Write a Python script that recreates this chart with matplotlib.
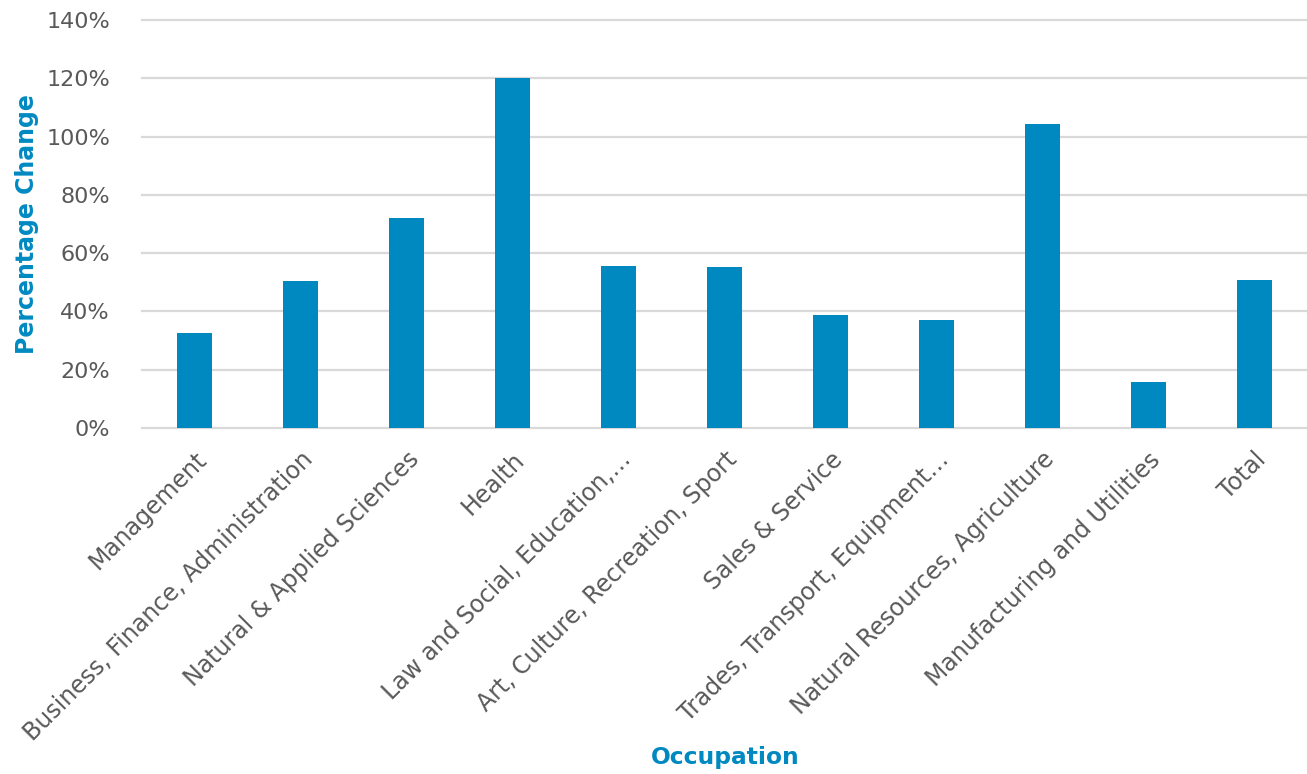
import matplotlib
matplotlib.use("Agg")
import matplotlib.pyplot as plt
from matplotlib.ticker import PercentFormatter

occupations = [
    "Management",
    "Business, Finance, Administration",
    "Natural & Applied Sciences",
    "Health",
    "Law and Social, Education,\u2026",
    "Art, Culture, Recreation, Sport",
    "Sales & Service",
    "Trades, Transport, Equipment\u2026",
    "Natural Resources, Agriculture",
    "Manufacturing and Utilities",
    "Total",
]
pct_change = [32.5, 50.5, 72.1, 120.3, 55.6, 55.1, 38.7, 37.1, 104.4, 15.7, 50.8]

BLUE = "#0089c1"
GREY = "#595959"

fig = plt.figure(figsize=(13.07, 7.74), dpi=100)
ax = fig.add_axes([0.1086, 0.447, 0.8914, 0.527])

x = range(len(occupations))
ax.bar(x, pct_change, width=0.33, color=BLUE, zorder=3)

ax.set_xlim(-0.5, len(occupations) - 0.5)
ax.set_ylim(0, 140)
ax.set_yticks(range(0, 141, 20))
ax.yaxis.set_major_formatter(PercentFormatter(decimals=0))
ax.grid(axis="y", color="#d9d9d9", linewidth=1.6, zorder=0)
for gl in ax.get_ygridlines():
    gl.set_clip_on(False)

for side in ["top", "right", "left", "bottom"]:
    ax.spines[side].set_visible(False)
ax.tick_params(axis="both", length=0, colors=GREY)
ax.tick_params(axis="y", labelsize=16, pad=23)

ax.set_xticks(list(x))
ax.set_xticklabels(occupations, rotation=45, ha="right", rotation_mode="anchor",
                   fontsize=17, color=GREY)
ax.tick_params(axis="x", pad=14)

ax.set_ylabel("Percentage Change", fontsize=17, fontweight="bold", color=BLUE)
ax.yaxis.set_label_coords(-0.088, 0.5)
fig.text(0.555, 0.0207, "Occupation", fontsize=16.8, fontweight="bold", color=BLUE,
         ha="center", va="center")

fig.savefig("out.png", dpi=100)
